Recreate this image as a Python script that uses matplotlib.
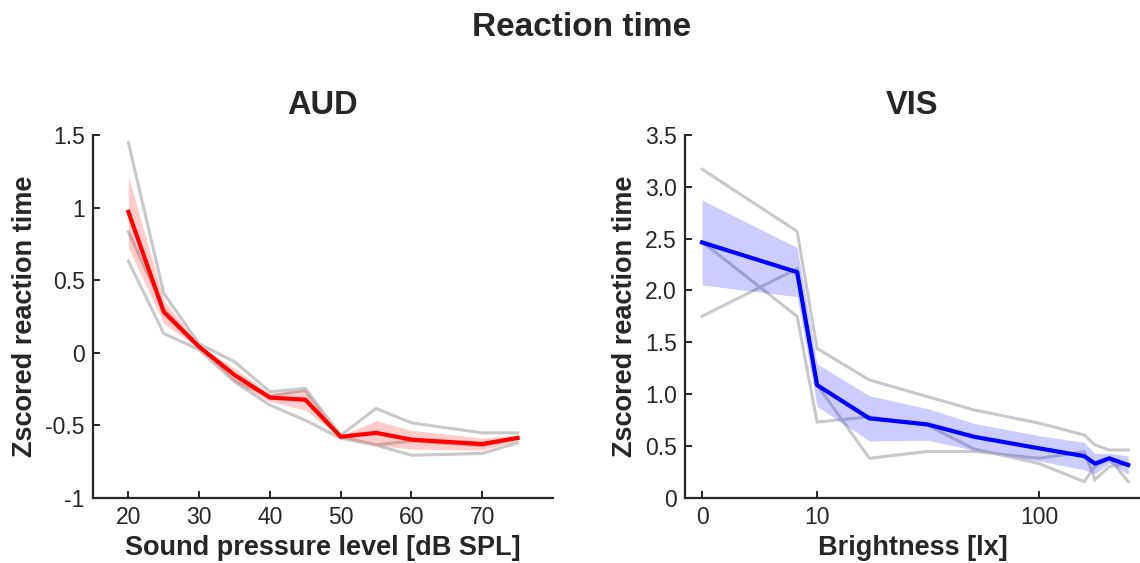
import numpy as np
import matplotlib
matplotlib.use("Agg")
import matplotlib.pyplot as plt

#--------data begin--------
aud_x = [20, 25, 30, 35, 40, 45, 50, 55, 60, 70, 75]
aud_subjects = [
  [1.447, 0.408, 0.06, -0.063, -0.27, -0.247, -0.57, -0.385, -0.484, -0.553, -0.553],
  [0.833, 0.30, 0.04, -0.20, -0.298, -0.26, -0.58, -0.636, -0.609, -0.642, -0.589],
  [0.631, 0.132, 0.02, -0.20, -0.362, -0.466, -0.59, -0.638, -0.707, -0.695, -0.622],
]
aud_yticks = [-1, -0.5, 0, 0.5, 1, 1.5]
aud_yticklabels = ["-1", "-0.5", "0", "0.5", "1", "1.5"]
aud_xticks = [20, 30, 40, 50, 60, 70]

vis_x = [0, 7.5, 10, 19, 35, 55, 100, 150, 165, 187, 221]
vis_subjects = [
  [3.17, 2.57, 1.44, 1.136, 0.975, 0.847, 0.72, 0.605, 0.51, 0.46, 0.46],
  [2.47, 1.75, 0.73, 0.78, 0.70, 0.47, 0.33, 0.155, 0.30, 0.38, 0.155],
  [1.75, 2.21, 1.09, 0.38, 0.447, 0.447, 0.38, 0.444, 0.175, 0.30, 0.33],
]
vis_yticks = [0, 0.5, 1.0, 1.5, 2.0, 2.5, 3.0, 3.5]
vis_yticklabels = ["0", "0.5", "1.0", "1.5", "2.0", "2.5", "3.0", "3.5"]
vis_xticks = [0, 10, 100]
#--------data end--------

#--------config begin--------
txt_color = "#262626"
grey = "#c8c8c8"
W, H = 1140, 563
lux_offset = 6.0
#--------config end--------

plt.rcParams["font.family"] = ["Liberation Sans", "DejaVu Sans"]


def lux_fwd(x):
  return np.log10(np.maximum(np.asarray(x, dtype=float) + lux_offset, 1e-6))


def lux_inv(y):
  return 10 ** np.asarray(y, dtype=float) - lux_offset


def draw_panel(ax, x, subjects, color, title, xlabel):
  subjects = np.array(subjects)
  for s in subjects:
    ax.plot(x, s, color=grey, lw=2.2, zorder=1, solid_joinstyle="miter")
  mean = subjects.mean(axis=0)
  sem = subjects.std(axis=0, ddof=1) / np.sqrt(subjects.shape[0])
  ax.fill_between(x, mean - sem, mean + sem, color=color, alpha=0.2, lw=0, zorder=2)
  ax.plot(x, mean, color=color, lw=3.0, zorder=3)
  ax.set_title(title, fontsize=23.5, fontweight="bold", color=txt_color, pad=15)
  ax.set_xlabel(xlabel, fontsize=19.5, fontweight="bold", color=txt_color, labelpad=4)
  ax.set_ylabel("Zscored reaction time", fontsize=19.5, fontweight="bold", color=txt_color, labelpad=5)
  for side in ("top", "right"):
    ax.spines[side].set_visible(False)
  for side in ("left", "bottom"):
    ax.spines[side].set_linewidth(1.6)
    ax.spines[side].set_color(txt_color)
  ax.tick_params(direction="in", length=5, width=1.4, colors=txt_color,
                 labelsize=16.5, pad=6)


fig = plt.figure(figsize=(W / 100, H / 100), dpi=100)
ax1 = fig.add_axes([93 / W, 1 - 497.7 / H, (553 - 93) / W, (497.7 - 135) / H])
ax2 = fig.add_axes([685 / W, 1 - 497.7 / H, (1140 - 685) / W, (497.7 - 135) / H])

draw_panel(ax1, aud_x, aud_subjects, "red", "AUD", "Sound pressure level [dB SPL]")
ax1.set_xlim(15, 80)
ax1.set_ylim(-1, 1.5)
ax1.set_xticks(aud_xticks)
ax1.set_yticks(aud_yticks)
ax1.set_yticklabels(aud_yticklabels)

ax2.set_xscale("function", functions=(lux_fwd, lux_inv))
draw_panel(ax2, vis_x, vis_subjects, "blue", "VIS", "Brightness [lx]")
ax2.set_xlim(-0.81, 245)
ax2.set_ylim(0, 3.5)
ax2.set_xticks(vis_xticks)
ax2.set_xticklabels([str(t) for t in vis_xticks])
ax2.xaxis.set_minor_locator(matplotlib.ticker.NullLocator())
ax2.set_yticks(vis_yticks)
ax2.set_yticklabels(vis_yticklabels)

fig.text(582 / W, 1 - 27 / H, "Reaction time", ha="center", va="center",
         fontsize=24, fontweight="bold", color=txt_color)

fig.savefig("out.png", dpi=100)
